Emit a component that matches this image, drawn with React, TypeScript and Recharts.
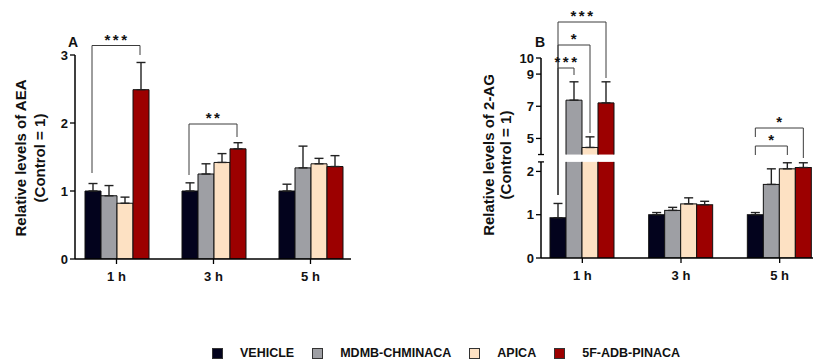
import React from 'react';
import { BarChart, Bar, XAxis, YAxis, ErrorBar, Customized } from 'recharts';

const FONT = '"Liberation Sans", Arial, Helvetica, sans-serif';

// categories / series
const times = ['1 h', '3 h', '5 h'];
const groups = ['VEHICLE', 'MDMB-CHMINACA', 'APICA', '5F-ADB-PINACA'];
const colors = ['#03031d', '#9e9fa4', '#fde1c3', '#9c0000'];

// panel A: AEA (mean, sem)
const aeaVehicle = [1.0, 1.0, 1.0];
const aeaVehicleSem = [0.11, 0.12, 0.1];
const aeaMdmb = [0.93, 1.25, 1.34];
const aeaMdmbSem = [0.15, 0.15, 0.32];
const aeaApica = [0.82, 1.42, 1.4];
const aeaApicaSem = [0.09, 0.13, 0.08];
const aea5f = [2.49, 1.62, 1.36];
const aea5fSem = [0.4, 0.09, 0.16];

// panel B: 2-AG (mean, sem)
const agVehicle = [0.93, 1.0, 1.0];
const agVehicleSem = [0.33, 0.05, 0.05];
const agMdmb = [7.38, 1.1, 1.7];
const agMdmbSem = [1.14, 0.07, 0.36];
const agApica = [4.44, 1.25, 2.06];
const agApicaSem = [0.66, 0.14, 0.14];
const ag5f = [7.21, 1.23, 2.09];
const ag5fSem = [1.31, 0.08, 0.11];

const aeaTicks = [0, 1, 2, 3];
const agTicks = [0, 1, 2, 5, 7, 9, 10];

// broken axis for panel B: 0..2.22 normal, then 4..10 compressed
const LOW_TOP = 2.22;
const HIGH_BASE = 4;
const HIGH_START = 2.39;
const HIGH_STEP = 0.3717;
const brk = (v: number) => (v <= LOW_TOP ? v : HIGH_START + (v - HIGH_BASE) * HIGH_STEP);
const unbrk = (m: number) => (m <= LOW_TOP + 0.01 ? m : HIGH_BASE + (m - HIGH_START) / HIGH_STEP);
const B_MAX = brk(10);

const aeaSeries = [aeaVehicle, aeaMdmb, aeaApica, aea5f];
const aeaSems = [aeaVehicleSem, aeaMdmbSem, aeaApicaSem, aea5fSem];
const agSeries = [agVehicle, agMdmb, agApica, ag5f];
const agSems = [agVehicleSem, agMdmbSem, agApicaSem, ag5fSem];

const aeaData = times.map((t, i) => {
  const row: any = { time: t };
  groups.forEach((g, k) => {
    row[g] = aeaSeries[k][i];
    row[g + '_err'] = [0, aeaSems[k][i]];
  });
  return row;
});

const agData = times.map((t, i) => {
  const row: any = { time: t };
  groups.forEach((g, k) => {
    const v = agSeries[k][i];
    const e = agSems[k][i];
    row[g] = brk(v);
    row[g + '_err'] = [0, brk(v + e) - brk(v)];
  });
  return row;
});

// layout
const BAR = 16;
const A = { w: 370, h: 300, top: 55, plotH: 204, yw: 75, plotW: 276, padL: -7, padR: -8 };
const B = { left: 470, w: 360, h: 300, top: 58, plotH: 200, yw: 71, plotW: 280, padL: -8, padR: -8 };

const barCenter = (L: any, t: number, k: number) => {
  const band = (L.plotW - L.padL - L.padR) / 3;
  const start = L.yw + L.padL + t * band;
  const off = Math.floor((band - 4 * BAR) / 2);
  return start + off + k * BAR + BAR / 2;
};
const yB = (m: number) => B.top + B.plotH * (1 - m / B_MAX);
const GAP_TOP = yB(HIGH_START);
const GAP_BOTTOM = yB(LOW_TOP);

// significance brackets (pixel levels)
const aeaBrackets = [
  { t: 0, a: 0, b: 3, level: 45.5, d1: 173, d2: 55, label: '***' },
  { t: 1, a: 0, b: 3, level: 124, d1: 175, d2: 137, label: '**' },
];
const agBrackets = [
  { t: 0, a: 0, b: 3, level: 22, d1: 195, d2: 78, label: '***' },
  { t: 0, a: 0, b: 2, level: 45, d1: 195, d2: 133, label: '*' },
  { t: 0, a: 0, b: 1, level: 68, d1: 195, d2: 75, label: '***' },
  { t: 2, a: 0, b: 3, level: 128, d1: 137, d2: 158, label: '*' },
  { t: 2, a: 0, b: 2, level: 146, d1: 155, d2: 155, label: '*' },
];

const Brackets = ({ L, list }: any) => (
  <g>
    {list.map((br: any, i: number) => {
      const x1 = barCenter(L, br.t, br.a);
      const x2 = barCenter(L, br.t, br.b);
      return (
        <g key={i}>
          <path d={`M${x1},${br.d1} V${br.level} H${x2} V${br.d2}`} fill="none" stroke="#3c3c3c" strokeWidth={1} />
          <text x={(x1 + x2) / 2 + 1} y={br.level - 1} textAnchor="middle" fontSize={15} fontWeight="bold" fill="#111" letterSpacing={2.5}>
            {br.label}
          </text>
        </g>
      );
    })}
  </g>
);

const YTitle = ({ x1, x2, cy, line1, line2 }: any) => (
  <g fontSize={15} fontWeight="bold" fill="#111">
    <text x={x1} y={cy} transform={`rotate(-90 ${x1} ${cy})`} textAnchor="middle" dominantBaseline="central">{line1}</text>
    <text x={x2} y={cy} transform={`rotate(-90 ${x2} ${cy})`} textAnchor="middle" dominantBaseline="central">{line2}</text>
  </g>
);

const AnnotA = () => (
  <g>
    <YTitle x1={20.5} x2={39.5} cy={158} line1="Relative levels of AEA" line2="(Control = 1)" />
    <text x={68} y={47} fontSize={14} fontWeight="bold" fill="#111">A</text>
    <Brackets L={A} list={aeaBrackets} />
  </g>
);

const AnnotB = () => {
  const ax = B.yw;
  return (
    <g>
      <YTitle x1={18.3} x2={35} cy={155} line1="Relative levels of 2-AG" line2="(Control = 1)" />
      <text x={65} y={47} fontSize={14} fontWeight="bold" fill="#111">B</text>
      <line x1={ax} y1={B.top + B.plotH} x2={ax} y2={GAP_BOTTOM} stroke="#000" strokeWidth={1.5} />
      <line x1={ax - 3} y1={GAP_BOTTOM} x2={ax + 3} y2={GAP_BOTTOM} stroke="#000" strokeWidth={1.3} />
      <line x1={ax} y1={GAP_TOP} x2={ax} y2={B.top} stroke="#000" strokeWidth={1.5} />
      <line x1={ax - 3} y1={GAP_TOP} x2={ax + 3} y2={GAP_TOP} stroke="#000" strokeWidth={1.3} />
      <Brackets L={B} list={agBrackets} />
    </g>
  );
};

const BrokenBar = (props: any) => {
  const { x, y, width, height, fill } = props;
  if (!height || height <= 0) return null;
  const bottom = y + height;
  const st = '#111';
  if (y < GAP_TOP && bottom > GAP_BOTTOM) {
    return (
      <g>
        <rect x={x} y={y} width={width} height={GAP_TOP - y} fill={fill} />
        <path d={`M${x},${GAP_TOP} V${y} H${x + width} V${GAP_TOP}`} fill="none" stroke={st} strokeWidth={1} />
        <rect x={x} y={GAP_BOTTOM} width={width} height={bottom - GAP_BOTTOM} fill={fill} />
        <path d={`M${x},${GAP_BOTTOM} V${bottom} M${x + width},${GAP_BOTTOM} V${bottom}`} fill="none" stroke={st} strokeWidth={1} />
      </g>
    );
  }
  return <rect x={x} y={y} width={width} height={height} fill={fill} stroke={st} strokeWidth={1} />;
};

const tickStyle = { fontSize: 13, fontWeight: 'bold', fill: '#111', fontFamily: FONT };
const xTickStyle = { fontSize: 13, fontWeight: 'bold', fill: '#111', fontFamily: FONT };

export default function App() {
  return (
    <div style={{ position: 'absolute', left: 0, top: 0, width: 813, height: 360, overflow: 'hidden', background: '#fff', fontFamily: FONT }}>
      <div style={{ position: 'absolute', left: 0, top: 0 }}>
        <BarChart width={A.w} height={A.h} data={aeaData} barGap={0} barSize={BAR}
          margin={{ top: A.top, right: A.w - A.yw - A.plotW, bottom: A.h - A.top - A.plotH - 40, left: 0 }}>
          <XAxis dataKey="time" height={40} padding={{ left: A.padL, right: A.padR }} tickSize={5} tickMargin={8}
            tick={xTickStyle} axisLine={{ stroke: '#000', strokeWidth: 1.5 }} tickLine={{ stroke: '#000', strokeWidth: 1.3 }} />
          <YAxis width={A.yw} domain={[0, 3]} ticks={aeaTicks} interval={0} tickSize={5} tickMargin={2} tick={tickStyle}
            axisLine={{ stroke: '#000', strokeWidth: 1.5 }} tickLine={{ stroke: '#000', strokeWidth: 1.3 }} allowDataOverflow />
          {groups.map((g, k) => (
            <Bar key={g} dataKey={g} fill={colors[k]} stroke="#111" strokeWidth={1} isAnimationActive={false}>
              <ErrorBar dataKey={g + '_err'} width={4.5} stroke="#222" strokeWidth={1.4} direction="y" />
            </Bar>
          ))}
          <Customized component={<AnnotA />} />
        </BarChart>
      </div>
      <div style={{ position: 'absolute', left: B.left, top: 0 }}>
        <BarChart width={B.w} height={B.h} data={agData} barGap={0} barSize={BAR}
          margin={{ top: B.top, right: B.w - B.yw - B.plotW, bottom: B.h - B.top - B.plotH - 40, left: 0 }}>
          <XAxis dataKey="time" height={40} padding={{ left: B.padL, right: B.padR }} tickSize={5} tickMargin={8}
            tick={xTickStyle} axisLine={{ stroke: '#000', strokeWidth: 1.5 }} tickLine={{ stroke: '#000', strokeWidth: 1.3 }} />
          <YAxis width={B.yw} domain={[0, B_MAX]} ticks={agTicks.map(brk)} interval={0} tickSize={5} tickMargin={2}
            tick={tickStyle} tickFormatter={(m: number) => String(Math.round(unbrk(m)))}
            axisLine={false} tickLine={{ stroke: '#000', strokeWidth: 1.3 }} allowDataOverflow />
          {groups.map((g, k) => (
            <Bar key={g} dataKey={g} fill={colors[k]} isAnimationActive={false}
              shape={(p: any) => <BrokenBar {...p} fill={colors[k]} />}>
              <ErrorBar dataKey={g + '_err'} width={4.5} stroke="#222" strokeWidth={1.4} direction="y" />
            </Bar>
          ))}
          <Customized component={<AnnotB />} />
        </BarChart>
      </div>
      <div style={{ position: 'absolute', left: 212, top: 347, height: 12, lineHeight: '12px', display: 'flex', alignItems: 'center', fontSize: 12.5, fontWeight: 'bold', color: '#111', whiteSpace: 'nowrap' }}>
        {groups.map((g, k) => (
          <span key={g} style={{ display: 'flex', alignItems: 'center', marginRight: 18 }}>
            <span style={{ display: 'inline-block', width: 11, height: 11, background: colors[k], border: '1px solid #333', boxSizing: 'border-box', marginRight: 17 }} />
            <span>{g}</span>
          </span>
        ))}
      </div>
    </div>
  );
}
